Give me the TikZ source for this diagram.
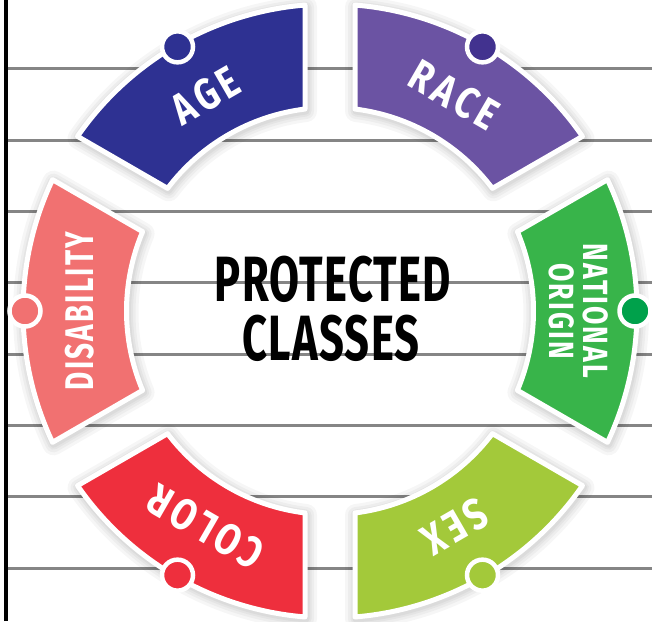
\documentclass[tikz,border=0pt]{standalone}
\usepackage{fontspec}
\setmainfont{Fira Sans}
\newfontfamily\lblfont[LetterSpace=13]{Fira Sans}
\newfontfamily\lblfontb[LetterSpace=8]{Fira Sans}
\newfontfamily\ttlfont[LetterSpace=3]{Fira Sans}
\definecolor{ageblue}{HTML}{2E3192}
\definecolor{racepurple}{HTML}{6B53A3}
\definecolor{racedot}{HTML}{42328F}
\definecolor{natgreen}{HTML}{38B44A}
\definecolor{natdot}{HTML}{00A14B}
\definecolor{sexgreen}{HTML}{A3C93A}
\definecolor{colorred}{HTML}{EE2F3D}
\definecolor{disred}{HTML}{F17171}
\definecolor{linegray}{HTML}{858585}
\newcommand\cx[2]{\scalebox{#1}[1]{#2}}
\tikzset{
  paperline/.style={linegray, line width=3},
  segfill/.style={draw=white, line width=5, line join=round},
  segshadow/.style={draw=black, line join=round, opacity=0.035},
  dotstyle/.style={draw=white, line width=4.5},
  lbl/.style={text=white, inner sep=0pt, font=\lblfont\bfseries\fontsize{44}{44}\selectfont},
  lblb/.style={text=white, inner sep=0pt, font=\lblfontb\bfseries\fontsize{40}{40}\selectfont},
  ttl/.style={text=black, inner sep=0pt, anchor=base, font=\ttlfont\bfseries\fontsize{64}{64}\selectfont}
}
\begin{document}
\begin{tikzpicture}[x=1pt,y=1pt]
\useasboundingbox (0,0) rectangle (652,621);
\fill[white] (0,0) rectangle (652,621);
% notebook lines
\foreach \yy in {69,140.3,211.6,282.9,354.2,425.5,496.8,568.1}
  \draw[paperline] (5,621-\yy) -- (652,621-\yy);
\draw[black, line width=4] (5.5,0) -- (5.5,621);
\begin{scope}[shift={(330,310)}]
% shadows
\foreach \a/\b in {90/150, 30/90, -30/30, -90/-30, -150/-90, 150/210}{
  \foreach \w in {22,16,11,7}{
    \draw[segshadow, line width=\w, shift={(1,-2)}]
      (\a+4.671:307) arc[start angle=\a+4.671, end angle=\b-4.671, radius=307]
      -- (\b-7.057:203.5) arc[start angle=\b-7.057, end angle=\a+7.057, radius=203.5] -- cycle;
  }
}
% segments
\foreach \a/\b/\c in {90/150/ageblue, 30/90/racepurple, -30/30/natgreen, -90/-30/sexgreen, -150/-90/colorred, 150/210/disred}{
  \filldraw[segfill, fill=\c]
    (\a+4.671:307) arc[start angle=\a+4.671, end angle=\b-4.671, radius=307]
    -- (\b-7.057:203.5) arc[start angle=\b-7.057, end angle=\a+7.057, radius=203.5] -- cycle;
}
% dots
\foreach \ang/\c in {120/ageblue, 60/racedot, 0/natdot, -60/sexgreen, 240/colorred, 180/disred}{
  \filldraw[dotstyle, fill=\c] (\ang:305) circle[radius=15.5];
}
% labels
\node[lbl, rotate=30] (age) at (120:249) {\cx{0.8}{AGE}};
\node[lbl, rotate=-30] (race) at (60:249) {\cx{0.8}{RACE}};
\node[lblb, rotate=-90, align=center, font=\lblfontb\bfseries\fontsize{35}{34}\selectfont] (nat) at (0:249) {\cx{0.76}{NATIONAL}\\\cx{0.76}{ORIGIN}};
\node[lbl, rotate=-150] (sex) at (-60:249) {\cx{0.8}{SEX}};
\node[lbl, rotate=150] (color) at (240:249) {\cx{0.8}{COLOR}};
\node[lblb, rotate=90] (dis) at (180:250) {\cx{0.7}{DISABILITY}};
% title
\node[ttl] (t1) at (3,9) {\cx{0.68}{PROTECTED}};
\node[ttl] (t2) at (1,-50) {\cx{0.68}{CLASSES}};
\end{scope}
\end{tikzpicture}
\end{document}
